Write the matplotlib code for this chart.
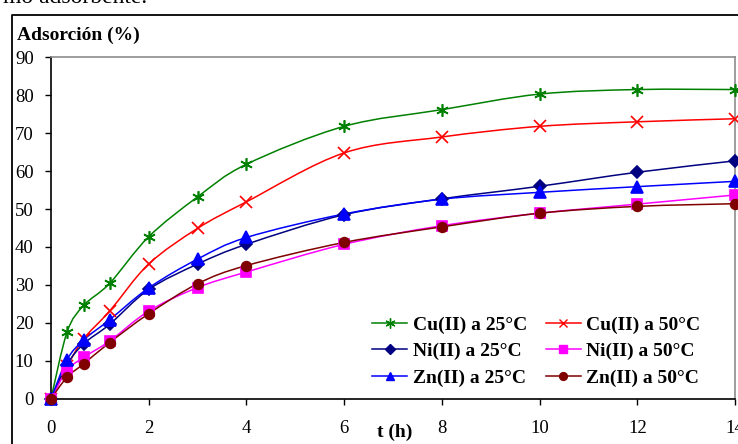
import matplotlib
matplotlib.use("Agg")
import matplotlib.pyplot as plt
from matplotlib.path import Path
from matplotlib.patches import PathPatch
from matplotlib.lines import Line2D
import numpy as np

# tiempos de muestreo (h)
t = [0, 0.33, 0.67, 1.2, 2, 3, 4, 6, 8, 10, 12, 14]

# adsorción (%)
cu_25 = [0, 17.6, 24.6, 30.4, 42.7, 53.2, 61.8, 71.8, 76.2, 80.3, 81.5, 81.5]
cu_50 = [0, 8.5, 15.8, 23.1, 35.5, 44.9, 51.9, 64.8, 69.0, 71.8, 73.0, 73.8]
ni_25 = [0, 9.0, 14.5, 19.6, 28.8, 35.5, 40.7, 48.5, 52.7, 56.0, 59.7, 62.7]
ni_50 = [0, 7.5, 10.9, 15.2, 23.1, 29.3, 33.4, 40.7, 45.6, 48.9, 51.3, 53.7]
zn_25 = [0, 10.3, 15.5, 20.8, 29.2, 36.8, 42.5, 48.7, 52.6, 54.4, 55.9, 57.3]
zn_50 = [0, 5.7, 9.2, 14.8, 22.4, 30.3, 35.1, 41.2, 45.3, 48.9, 50.7, 51.4]

series = [
    ("Cu(II) a 25°C", cu_25, "#008000", (6, 2, 0), 9),
    ("Cu(II) a 50°C", cu_50, "#ff0000", "x", 8),
    ("Ni(II) a 25°C", ni_25, "#000080", "D", 6),
    ("Ni(II) a 50°C", ni_50, "#ff00ff", "s", 7),
    ("Zn(II) a 25°C", zn_25, "#0000ff", "^", 8),
    ("Zn(II) a 50°C", zn_50, "#800000", "o", 7),
]

plt.rcParams['font.family'] = ['Liberation Serif', 'DejaVu Serif']


def smooth_path(x, y):
    # curva suavizada tipo Excel (Catmull-Rom -> Bezier)
    x = np.asarray(x, float)
    y = np.asarray(y, float)
    verts = [(x[0], y[0])]
    codes = [Path.MOVETO]
    n = len(x)
    for i in range(n - 1):
        i0 = max(i - 1, 0)
        i3 = min(i + 2, n - 1)
        c1 = (x[i] + (x[i + 1] - x[i0]) / 6, y[i] + (y[i + 1] - y[i0]) / 6)
        c2 = (x[i + 1] - (x[i3] - x[i]) / 6, y[i + 1] - (y[i3] - y[i]) / 6)
        verts += [c1, c2, (x[i + 1], y[i + 1])]
        codes += [Path.CURVE4] * 3
    return Path(verts, codes)


W, H = 738, 444
fig = plt.figure(figsize=(W / 100, H / 100), dpi=100)
ax = fig.add_axes([51 / W, 1 - 398.7 / H, (735 - 51) / W, (398.7 - 57.3) / H])

for label, vals, color, marker, ms in series:
    ax.add_patch(PathPatch(smooth_path(t, vals), fill=False, edgecolor=color,
                           linewidth=1.1, zorder=2))
    ax.plot(t, vals, linestyle="none", marker=marker, color=color,
            markersize=ms, markeredgewidth=1.2, zorder=3, clip_on=False)

ax.set_xlim(0, 14)
ax.set_ylim(0, 90)
ax.set_xticks(range(0, 15, 2))
ax.set_yticks(range(0, 91, 10))
ax.tick_params(direction="out", length=4.5, width=1, labelsize=13.5, pad=8)
ax.tick_params(axis="x", pad=11)

for side in ["left", "bottom"]:
    ax.spines[side].set_color("black")
    ax.spines[side].set_linewidth(1.2)
for side in ["top", "right"]:
    ax.spines[side].set_color("#8c8c8c")
    ax.spines[side].set_linewidth(1.2)

# leyenda en filas: 25°C a la izquierda, 50°C a la derecha
order = [0, 2, 4, 1, 3, 5]
handles = [Line2D([], [], color=series[i][2], marker=series[i][3],
                  markersize=series[i][4] * 0.8, linewidth=1.1) for i in order]
labels = [series[i][0] for i in order]
ax.legend(handles, labels, ncol=2, frameon=False, loc="upper left",
          bbox_to_anchor=(372 / W, 1 - 316 / H), bbox_transform=fig.transFigure,
          borderpad=0, borderaxespad=0, handlelength=1.8, handletextpad=0.3,
          columnspacing=0.95, labelspacing=0.45,
          prop={"weight": "bold", "size": 14})

fig.text(17 / W, 1 - 35 / H, "Adsorción (%)", fontsize=14, fontweight="bold",
         va="center", ha="left")
fig.text(395 / W, 1 - 432 / H, "t (h)", fontsize=14, fontweight="bold",
         va="center", ha="center")

# marco del gráfico y texto del documento
fig.add_artist(Line2D([12 / W, 12 / W, 1], [0, 1 - 15 / H, 1 - 15 / H],
                      transform=fig.transFigure, color="black", linewidth=1.3))
fig.text(3 / W, 1 - 3 / H, "mo adsorbente.", fontsize=17, va="baseline", ha="left")

fig.savefig("out.png", dpi=100)
